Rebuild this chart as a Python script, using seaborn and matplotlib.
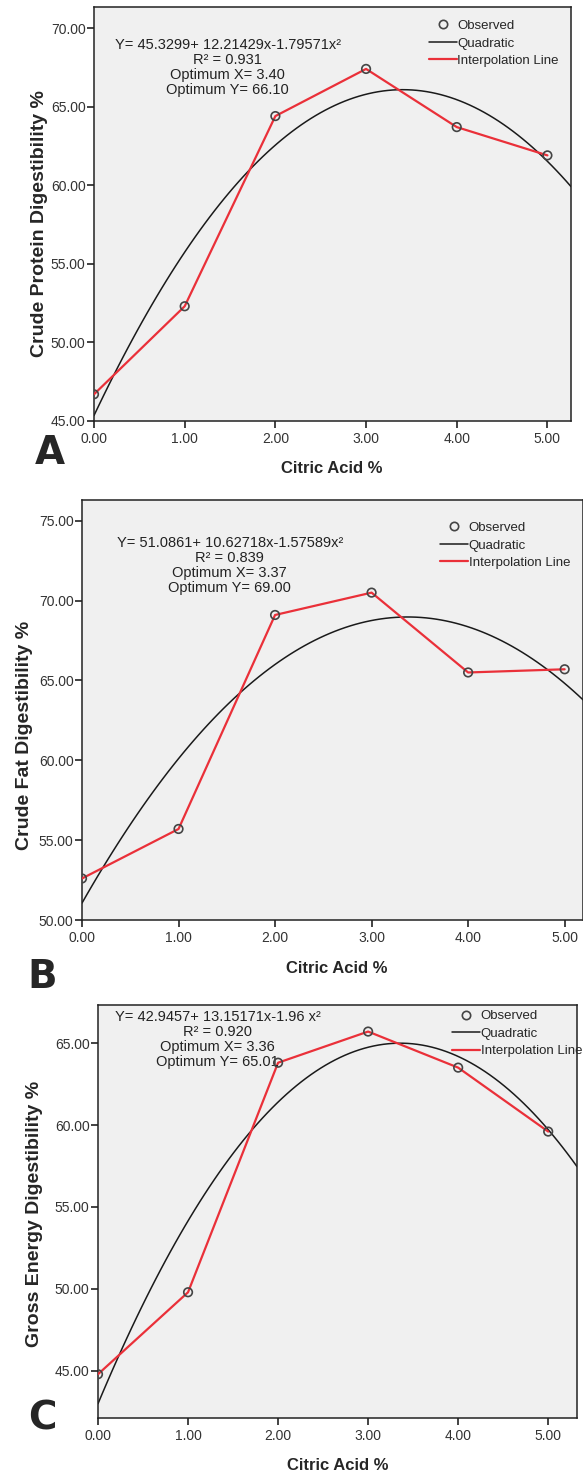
import numpy as np
import pandas as pd
import matplotlib
matplotlib.use("Agg")
import matplotlib.pyplot as plt
from matplotlib.lines import Line2D
from matplotlib.ticker import FormatStrFormatter
import seaborn as sns

citric_acid = [0, 1, 2, 3, 4, 5]
crude_protein = [46.7, 52.3, 64.4, 67.4, 63.7, 61.9]
crude_fat = [52.6, 55.7, 69.1, 70.5, 65.5, 65.7]
gross_energy = [44.8, 49.8, 63.8, 65.7, 63.5, 59.6]

# annotation text for each panel
eq_a = ["Y= 45.3299+ 12.21429x-1.79571x\u00b2", "R\u00b2 = 0.931", "Optimum X= 3.40", "Optimum Y= 66.10"]
eq_b = ["Y= 51.0861+ 10.62718x-1.57589x\u00b2", "R\u00b2 = 0.839", "Optimum X= 3.37", "Optimum Y= 69.00"]
eq_c = ["Y= 42.9457+ 13.15171x-1.96 x\u00b2", "R\u00b2 = 0.920", "Optimum X= 3.36", "Optimum Y= 65.01"]

x_ticks = [0, 1, 2, 3, 4, 5]
y_ticks_a = [45, 50, 55, 60, 65, 70]
y_ticks_b = [50, 55, 60, 65, 70, 75]
y_ticks_c = [45, 50, 55, 60, 65]

sns.set_style("white", {"axes.facecolor": "#f0f0f0", "axes.edgecolor": "#222222"})
plt.rcParams["font.family"] = ["Liberation Sans", "DejaVu Sans"]

RED = "#ea3039"
W, H = 583, 1477
fig = plt.figure(figsize=(W / 100, H / 100), dpi=100)


def px_axes(left, top, right, bottom):
    return fig.add_axes([left / W, 1 - bottom / H, (right - left) / W, (bottom - top) / H])


def panel(ax, y, ylabel, eq, eq_xy, eq_step, yticks, ylim, xlim, leg_xy,
          letter, letter_xy, ylabel_xy, xlabel_xy):
    df = pd.DataFrame({"x": citric_acid, "y": y})
    ax.set_xlim(*xlim)
    ax.set_ylim(*ylim)
    sns.regplot(data=df, x="x", y="y", order=2, ci=None, truncate=False, scatter=False,
                line_kws={"color": "#1a1a1a", "lw": 1.1, "zorder": 2}, ax=ax)
    sns.lineplot(data=df, x="x", y="y", color=RED, lw=1.6, ax=ax, zorder=3)
    sns.scatterplot(data=df, x="x", y="y", marker="o", s=38, facecolor="none",
                    edgecolor="#444444", linewidth=1.2, ax=ax, zorder=4)
    ax.set_xlim(*xlim)
    ax.set_ylim(*ylim)
    ax.set_xticks(x_ticks)
    ax.set_yticks(yticks)
    ax.xaxis.set_major_formatter(FormatStrFormatter("%.2f"))
    ax.yaxis.set_major_formatter(FormatStrFormatter("%.2f"))
    ax.tick_params(axis="both", which="major", direction="out", length=5, width=1.2,
                   color="#222222", labelsize=10, labelcolor="#333333",
                   bottom=True, left=True)
    ax.tick_params(axis="x", pad=3)
    ax.tick_params(axis="y", pad=1)
    for s in ax.spines.values():
        s.set_linewidth(1.1)
    ax.set_xlabel("Citric Acid %", fontsize=12, fontweight="bold")
    ax.xaxis.set_label_coords(*xlabel_xy)
    ax.set_ylabel(ylabel, fontsize=14, fontweight="bold")
    ax.yaxis.set_label_coords(*ylabel_xy)

    # equation block
    ex, ey = eq_xy
    for i, line in enumerate(eq):
        ax.text(ex, ey - i * eq_step, line, transform=ax.transAxes, ha="center", va="center",
                fontsize=10.5, color="#222222")

    handles = [
        Line2D([], [], marker="o", ls="none", mfc="none", mec="#444444", mew=1.2, ms=6),
        Line2D([], [], color="#1a1a1a", lw=1.1),
        Line2D([], [], color=RED, lw=1.6),
    ]
    ax.legend(handles, ["Observed", "Quadratic", "Interpolation Line"], loc="upper left",
              bbox_to_anchor=leg_xy, frameon=False, fontsize=9.5, handlelength=2.1,
              handletextpad=0.05, labelspacing=0.4, borderpad=0, borderaxespad=0)

    fig.text(letter_xy[0] / W, 1 - letter_xy[1] / H, letter, fontsize=28, fontweight="bold",
             family="DejaVu Sans", ha="center", va="center")


ax_a = px_axes(94, 7, 571, 421)
panel(ax_a, crude_protein, "Crude Protein Digestibility %", eq_a, (0.28, 0.908), 0.0365,
      y_ticks_a, (45, 71.34), (0, 5.26), (0.702, 0.969), "A", (50, 453),
      (-0.097, 0.476), (0.499, -0.097))

ax_b = px_axes(82, 500, 583, 920)
panel(ax_b, crude_fat, "Crude Fat Digestibility %", eq_b, (0.295, 0.898), 0.0357,
      y_ticks_b, (50, 76.3), (0, 5.19), (0.715, 0.948), "B", (42, 977),
      (-0.098, 0.44), (0.509, -0.098))

ax_c = px_axes(98, 1005, 577, 1418)
panel(ax_c, gross_energy, "Gross Energy Digestibility %", eq_c, (0.25, 0.971), 0.0363,
      y_ticks_c, (42.13, 67.32), (0, 5.32), (0.74, 0.988), "C", (42, 1419),
      (-0.115, 0.494), (0.501, -0.097))

fig.savefig("out.png", dpi=100)
